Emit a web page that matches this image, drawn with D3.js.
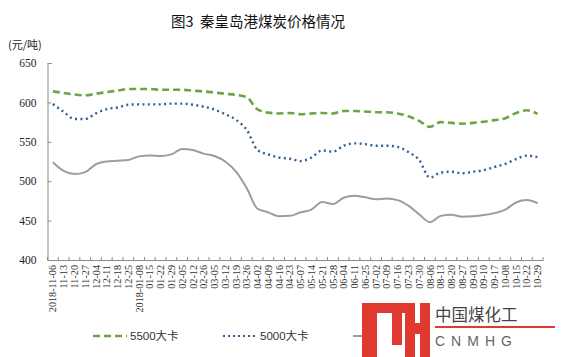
<!DOCTYPE html>
<html><head><meta charset="utf-8">
<script src="https://cdn.jsdelivr.net/npm/d3@7"></script>
<style>body{margin:0;background:#fff}svg{display:block}</style>
</head><body>
<script>
const categories = ["2018-11-06","11-13","11-20","11-27","12-04","12-11","12-18","12-25","2018-01-08","01-15","01-22","01-29","02-05","02-12","02-26","03-05","03-12","03-19","03-26","04-02","04-09","04-16","04-23","05-07","05-14","05-21","05-28","06-04","06-11","06-25","07-02","07-09","07-16","07-23","07-30","08-06","08-13","08-20","08-27","09-03","09-10","09-17","10-08","10-15","10-22","10-29"];
const s5500 = [614,612,610,609,611,613,615,617,617,617,616,616,616,615,614,612.5,611,609.5,606.5,591,587,586,586.5,585,586,586.5,586,589,589,588.5,587.5,587.5,586,582.5,576.5,569,575,574,573,574,575.5,577.5,580,586.5,590,585.5];
const s5000 = [598,588,579,579,586,591.5,593.5,597,597.5,597.5,597.5,598.5,598.5,597,594.5,591,585,578,565,539.5,534,530,528.5,525.5,530,539,537.5,545,548,547,545,545,543.5,537,527,504.5,511,512,510,512,514,518,522,528,532.5,530.5];
const s4500 = [524,513,509,511.5,521.5,525,526,527,531.5,532.5,532,534,541,539.5,535,532,525,512,491,465,460.5,455.5,456,460.5,464,473.5,471,479,481.5,479.5,477,478,476,469,458,448,456,457.5,455,455.5,457,459.5,464,473,476,472];
const yTicks = [400,450,500,550,600,650];
const seriesNames = ["5500大卡","5000大卡","4500大卡"];
const title = "图3  秦皇岛港煤炭价格情况";
const unitLabel = "(元/吨)";

const W = 561, H = 357;
const svg = d3.select("body").append("svg").attr("width", W).attr("height", H);
const m = {l:47.5, r:543, t:63, b:260};

const x = d3.scaleBand().domain(categories).range([m.l, m.r]);
const y = d3.scaleLinear().domain([400,650]).range([m.b, m.t]);
const serif = "'Liberation Serif','Times New Roman',serif";
const sans = "'Liberation Sans',Arial,'Noto Sans CJK SC',sans-serif";

svg.append("text").attr("x", 258).attr("y", 27).attr("text-anchor","middle").style("white-space","pre")
  .attr("font-family","'Noto Sans CJK SC',sans-serif").attr("font-size",14.5).attr("fill","#111").text(title);
svg.append("text").attr("x", 8).attr("y", 49)
  .attr("font-family","'Noto Sans CJK SC',sans-serif").attr("font-size",11).attr("fill","#222").text(unitLabel);

// y axis
const ya = svg.append("g").attr("transform",`translate(${m.l},0)`)
  .call(d3.axisLeft(y).tickValues(yTicks).tickSize(-4).tickPadding(11));
ya.select(".domain").attr("stroke","#8a8a8a");
ya.selectAll(".tick line").attr("stroke","#8a8a8a");
ya.selectAll("text").attr("font-family",serif).attr("font-size",11.5).attr("fill","#222");

// x axis
const xa = svg.append("g").attr("transform",`translate(0,${m.b})`)
  .call(d3.axisBottom(x).tickSize(0).tickPadding(5));
xa.select(".domain").attr("stroke","#8a8a8a");
xa.selectAll("text").attr("font-family",serif).attr("font-size",10.2).attr("fill","#333")
  .attr("text-anchor","end").attr("x",-5).attr("y",3.6).attr("dx",0).attr("dy",0)
  .attr("transform","rotate(-90)");
// boundary ticks
const bounds = categories.map(c => x(c)).concat([x(categories[categories.length-1]) + x.bandwidth()]);
svg.append("g").selectAll("line").data(bounds).join("line")
  .attr("x1", d=>d).attr("x2", d=>d).attr("y1", m.b).attr("y2", m.b-3)
  .attr("stroke","#8a8a8a").attr("stroke-width",1);

const cx = c => x(c) + x.bandwidth()/2;
const mk = arr => d3.line().x((d,i)=>cx(categories[i])).y(d=>y(d)).curve(d3.curveMonotoneX)(arr);

svg.append("path").attr("d", mk(s4500)).attr("fill","none").attr("stroke","#9d9d9d").attr("stroke-width",2);
svg.append("path").attr("d", mk(s5000)).attr("fill","none").attr("stroke","#2f5f93").attr("stroke-width",2.4)
  .attr("stroke-dasharray","2,3.4");
svg.append("path").attr("d", mk(s5500)).attr("fill","none").attr("stroke","#6ea443").attr("stroke-width",2.6)
  .attr("stroke-dasharray","7,4");

// legend
const ly = 336;
const lg = svg.append("g");
lg.append("line").attr("x1",93).attr("x2",127).attr("y1",ly).attr("y2",ly)
  .attr("stroke","#6ea443").attr("stroke-width",2.6).attr("stroke-dasharray","7,4");
lg.append("text").attr("x",130).attr("y",ly+4).attr("font-family",sans).attr("font-size",11.5).attr("fill","#333").text(seriesNames[0]);
lg.append("line").attr("x1",223).attr("x2",256).attr("y1",ly).attr("y2",ly)
  .attr("stroke","#2f5f93").attr("stroke-width",2).attr("stroke-dasharray","2,3");
lg.append("text").attr("x",260).attr("y",ly+4).attr("font-family",sans).attr("font-size",11.5).attr("fill","#333").text(seriesNames[1]);
lg.append("line").attr("x1",353).attr("x2",364).attr("y1",ly).attr("y2",ly)
  .attr("stroke","#9d9d9d").attr("stroke-width",2);

// watermark logo
const lo = svg.append("g");
const red = "#e03a30";
[[362,303,15,54],[362,303,50,10],[392,303,10,42],[405,303,10,54],[405,323,25,11],[420,303,10,54]].forEach(r=>{
  lo.append("rect").attr("x",r[0]).attr("y",r[1]).attr("width",r[2]).attr("height",r[3]).attr("fill",red);
});
lo.append("text").attr("x",435).attr("y",321).attr("font-family","'Noto Sans CJK SC',sans-serif")
  .attr("font-size",16.5).attr("fill","#444").text("中国煤化工");
lo.append("rect").attr("x",435).attr("y",326).attr("width",120).attr("height",2).attr("fill",red);
lo.append("text").attr("x",435).attr("y",346).attr("font-family",sans)
  .attr("font-size",14).attr("letter-spacing",6).attr("fill","#666").text("CNMHG");
</script>
</body></html>
